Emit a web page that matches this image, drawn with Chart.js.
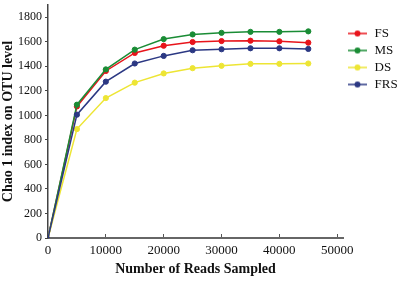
<!DOCTYPE html>
<html>
<head>
<meta charset="utf-8">
<script src="https://cdn.jsdelivr.net/npm/chart.js@4"></script>
<style>
  body { margin: 0; background: #fff; }
  #grafico { display: block; }
</style>
</head>
<body>
<canvas id="grafico" width="401" height="281"></canvas>
<script>
// leituras (eixo x) e valores de Chao 1 por tratamento
const leituras = [0, 5000, 10000, 15000, 20000, 25000, 30000, 35000, 40000, 45000];
const series = ['FS', 'MS', 'DS', 'FRS'];
const valoresFS  = [0, 1073, 1362, 1509, 1568, 1598, 1606, 1609, 1604, 1593];
const valoresMS  = [0, 1087, 1375, 1536, 1622, 1660, 1673, 1681, 1681, 1685];
const valoresDS  = [0, 888, 1141, 1267, 1342, 1385, 1404, 1420, 1420, 1423];
const valoresFRS = [0, 1006, 1275, 1423, 1485, 1531, 1539, 1547, 1547, 1542];
const ticksX = [0, 10000, 20000, 30000, 40000, 50000];
const ticksY = [0, 200, 400, 600, 800, 1000, 1200, 1400, 1600, 1800];

const cores = ['#e8141b', '#1a8c35', '#ede534', '#2b3883'];
const fonte = "'Liberation Serif', 'Times New Roman', serif";

// icone da legenda: linha com bolinha
function iconeLegenda(cor) {
    const c = document.createElement('canvas');
    c.width = 19;
    c.height = 8;
    const g = c.getContext('2d');
    g.strokeStyle = cor;
    g.lineWidth = 1.5;
    g.beginPath();
    g.moveTo(0, 4);
    g.lineTo(19, 4);
    g.stroke();
    g.fillStyle = cor;
    g.beginPath();
    g.arc(9.5, 4, 3, 0, Math.PI * 2);
    g.fill();
    return c;
}

function pontos(valores) {
    return leituras.map((x, i) => ({ x: x, y: valores[i] }));
}

const todos = [valoresFS, valoresMS, valoresDS, valoresFRS];

const datasets = series.map((nome, i) => ({
    label: nome,
    data: pontos(todos[i]),
    borderColor: cores[i],
    backgroundColor: cores[i],
    borderWidth: 1.5,
    pointRadius: leituras.map(x => x === 0 ? 1.5 : 2.6),
    pointBorderWidth: 1,
    pointStyle: 'circle',
    order: series.length - 1 - i,
    tension: 0
}));

// largura fixa da legenda, pra area do grafico terminar no lugar certo
const larguraLegenda = {
    id: 'larguraLegenda',
    beforeLayout(chart) {
        const lg = chart.legend;
        if (lg && !lg._fixo) {
            const fitOriginal = lg.fit.bind(lg);
            lg.fit = function () {
                fitOriginal();
                this.width = 58;
            };
            lg._fixo = true;
        }
    }
};

const ctx = document.getElementById('grafico').getContext('2d');

new Chart(ctx, {
    type: 'line',
    data: { datasets: datasets },
    plugins: [larguraLegenda],
    options: {
        responsive: false,
        animation: false,
        layout: { padding: { top: 3, right: 0, bottom: 0, left: 0 } },
        plugins: {
            tooltip: { enabled: false },
            legend: {
                position: 'right',
                align: 'start',
                title: { display: true, text: ' ', font: { size: 10 }, padding: 4 },
                labels: {
                    usePointStyle: true,
                    pointStyleWidth: 21,
                    boxHeight: 8,
                    padding: 4,
                    color: '#111',
                    font: { family: fonte, size: 13 },
                    sort: (a, b) => a.datasetIndex - b.datasetIndex,
                    generateLabels: (chart) => chart.data.datasets.map((d, i) => ({
                        text: d.label,
                        pointStyle: iconeLegenda(d.borderColor),
                        fillStyle: d.borderColor,
                        strokeStyle: d.borderColor,
                        lineWidth: 0,
                        fontColor: '#111',
                        hidden: false,
                        datasetIndex: i
                    }))
                }
            }
        },
        scales: {
            x: {
                type: 'linear',
                min: 0,
                max: 51000,
                afterBuildTicks: (s) => { s.ticks = ticksX.map(v => ({ value: v })); },
                afterFit: (s) => { s.height = 43; s.paddingLeft = 0; s.paddingRight = 0; },
                grid: { display: true, drawOnChartArea: false, drawTicks: true, tickLength: -4, color: '#555', lineWidth: 1 },
                border: { display: true, color: '#666', width: 2 },
                ticks: {
                    color: '#111',
                    padding: 9,
                    maxRotation: 0,
                    font: { family: fonte, size: 13 },
                    callback: (v) => String(v)
                },
                title: {
                    display: true,
                    text: 'Number of Reads Sampled',
                    color: '#111',
                    font: { family: fonte, size: 14, weight: 'bold' },
                    padding: { top: 0, bottom: 3 }
                }
            },
            y: {
                min: 0,
                max: 1900,
                afterBuildTicks: (s) => { s.ticks = ticksY.map(v => ({ value: v })); },
                afterFit: (s) => { s.width = 48; s.paddingTop = 0; s.paddingBottom = 0; },
                grid: { display: true, drawOnChartArea: false, drawTicks: true, tickLength: 3, color: '#444', lineWidth: 1 },
                border: { display: true, color: '#444', width: 1.5 },
                ticks: {
                    color: '#111',
                    padding: 3,
                    font: { family: fonte, size: 12 },
                    callback: (v) => String(v)
                },
                title: {
                    display: true,
                    text: 'Chao 1 index on OTU level',
                    color: '#111',
                    font: { family: fonte, size: 14, weight: 'bold' },
                    padding: { top: 0, bottom: 0 }
                }
            }
        }
    }
});
</script>
</body>
</html>
